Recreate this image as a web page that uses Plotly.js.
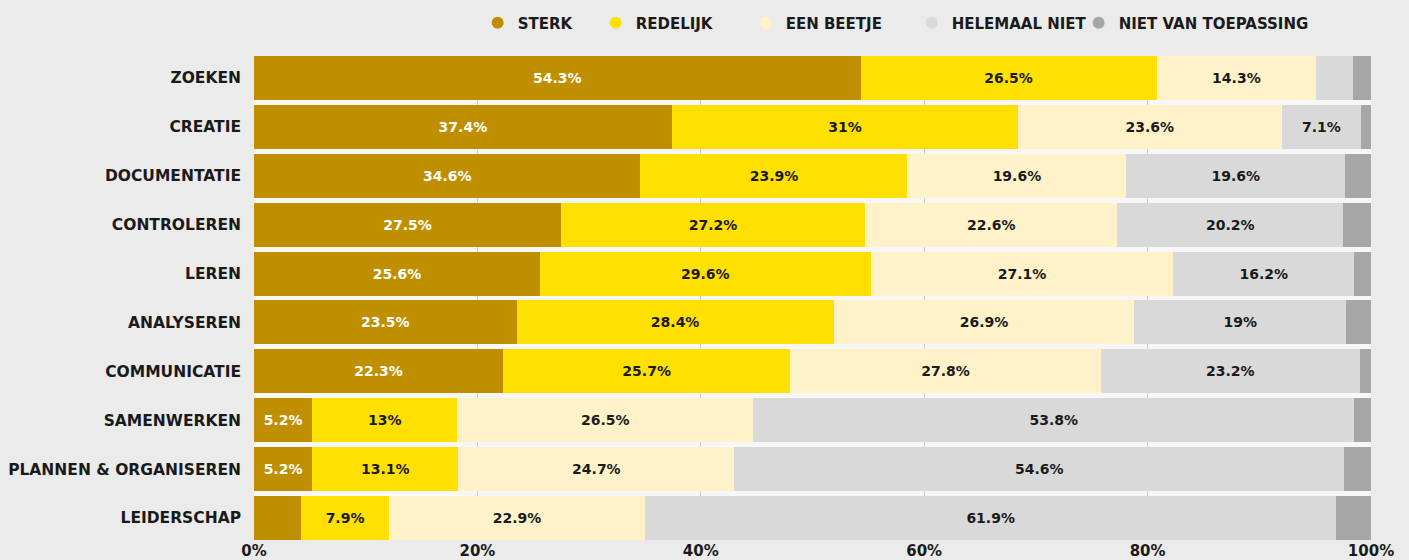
<!DOCTYPE html>
<html>
<head>
<meta charset="utf-8">
<script src="https://cdn.plot.ly/plotly-3.0.1.min.js"></script>
<style>
html,body{margin:0;padding:0;background:#ebebeb;}
#chart{width:1409px;height:560px;}
</style>
</head>
<body>
<div id="chart"></div>
<script>
const categories = ["ZOEKEN","CREATIE","DOCUMENTATIE","CONTROLEREN","LEREN","ANALYSEREN","COMMUNICATIE","SAMENWERKEN","PLANNEN & ORGANISEREN","LEIDERSCHAP"];
const seriesNames = ["STERK","REDELIJK","EEN BEETJE","HELEMAAL NIET","NIET VAN TOEPASSING"];
const sterk        = [54.3, 37.4, 34.6, 27.5, 25.6, 23.5, 22.3, 5.2, 5.2, 4.2];
const redelijk     = [26.5, 31.0, 23.9, 27.2, 29.6, 28.4, 25.7, 13.0, 13.1, 7.9];
const eenBeetje    = [14.3, 23.6, 19.6, 22.6, 27.1, 26.9, 27.8, 26.5, 24.7, 22.9];
const helemaalNiet = [3.3, 7.1, 19.6, 20.2, 16.2, 19.0, 23.2, 53.8, 54.6, 61.9];
const nietVanToep  = [1.6, 0.9, 2.3, 2.5, 1.5, 2.2, 1.0, 1.5, 2.4, 3.1];
const tickValues = [0, 20, 40, 60, 80, 100];
const tickLabels = ["0%", "20%", "40%", "60%", "80%", "100%"];

const colors = ["#bf8f00", "#ffe000", "#fff2c9", "#d9d9d9", "#a6a6a6"];
const textColors = ["#ffffff", "#1a1a1a", "#1a1a1a", "#1a1a1a", "#1a1a1a"];
const legendWidths = [73, 105, 121, 122, 200];
const FONT = "'DejaVu Sans', sans-serif";

const allSeries = [sterk, redelijk, eenBeetje, helemaalNiet, nietVanToep];

function fmt(v){ return (Math.round(v*10)/10).toString() + "%"; }

const traces = [];
allSeries.forEach((vals, i) => {
  traces.push({
    type: "bar",
    orientation: "h",
    name: seriesNames[i],
    y: categories,
    x: vals,
    marker: {color: colors[i], line: {width: 0}},
    text: vals.map(v => v >= 5 ? fmt(v) : ""),
    textposition: "inside",
    insidetextanchor: "middle",
    textangle: 0,
    constraintext: "none",
    textfont: {family: FONT, size: 14, color: textColors[i], weight: "bold"},
    hoverinfo: "skip",
    showlegend: false
  });
});
// legend entries with circular symbols
seriesNames.forEach((n, i) => {
  traces.push({
    type: "scatter",
    mode: "markers",
    name: n,
    x: [null], y: [null],
    marker: {color: colors[i], size: 16, symbol: "circle", line: {width: 0}},
    showlegend: true,
    legendwidth: legendWidths[i],
    hoverinfo: "skip"
  });
});

const layout = {
  width: 1409, height: 560,
  paper_bgcolor: "#ebebeb",
  plot_bgcolor: "#f7f7f7",
  barmode: "stack",
  bargap: 0.1,
  margin: {l: 254, r: 38, t: 56, b: 20, pad: 0},
  font: {family: FONT, color: "#1a1a1a", size: 14, weight: "bold"},
  showlegend: true,
  legend: {
    orientation: "h",
    x: 0.339, xanchor: "left",
    y: 0.959, yanchor: "middle",
    yref: "container",
    xref: "container",
    font: {family: FONT, size: 15, color: "#1a1a1a", weight: "bold"},
    itemsizing: "constant",
    bgcolor: "rgba(0,0,0,0)",
    traceorder: "normal",
    itemclick: false
  },
  xaxis: {
    range: [0, 100],
    tickvals: tickValues,
    ticktext: tickLabels,
    showgrid: true,
    gridcolor: "#cfcfcf",
    gridwidth: 1,
    zeroline: false,
    showline: false,
    ticks: "",
    tickfont: {family: FONT, size: 15, color: "#1a1a1a", weight: "bold"},
    fixedrange: true
  },
  yaxis: {
    autorange: false,
    range: [9.45, -0.45],
    type: "category",
    categoryorder: "array",
    categoryarray: categories,
    showgrid: false,
    zeroline: false,
    showline: false,
    ticks: "",
    ticklabelstandoff: 12,
    tickfont: {family: FONT, size: 15.5, color: "#1a1a1a", weight: "bold"},
    fixedrange: true
  }
};

Plotly.newPlot("chart", traces, layout, {displayModeBar: false, staticPlot: true});
</script>
</body>
</html>
